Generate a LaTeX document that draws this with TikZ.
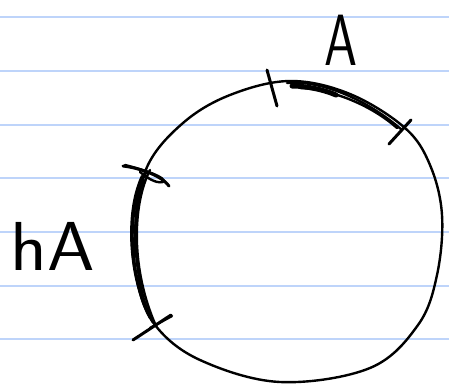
\documentclass[tikz,border=0pt]{standalone}
\usepackage{fontspec}
\definecolor{ruleblue}{RGB}{190,212,250}
\begin{document}
\begin{tikzpicture}[x=1pt,y=-1pt,
  ink/.style={line width=2.4pt,line cap=round,line join=round,black},
  tickmark/.style={line width=3pt,line cap=round,black},
  heavy/.style={line width=5pt,line cap=round,black},
  rule/.style={line width=2pt,ruleblue},
  lbl/.style={font=\sffamily\fontsize{66}{66}\selectfont,inner sep=0pt}]
\useasboundingbox (0,0) rectangle (449,385);
\fill[white] (0,0) rectangle (449,385);
% ruled lines
\foreach \yy in {17,71,124.5,178,231.5,285.5,339}
  \draw[rule] (0,\yy) -- (449,\yy);
% circle
\draw[ink] plot[smooth cycle,tension=0.6] coordinates {
  (290,81) (350,94) (405,128) (430,165) (442,215) (437,275) (418,325) (370,368)
  (280,382) (200,360) (155,325) (137,280) (135,230) (147,167) (183,123) (230,95)};
% arc A (top, heavy)
\draw[heavy] (292,86) .. controls (305,86) and (322,89) .. (336,95);
\draw[ink] (287,83) .. controls (320,80) and (365,98) .. (402,130);
\draw[ink] (300,88) .. controls (330,89) and (370,104) .. (397,128);
% arc hA (left, heavy)
\draw[ink,line width=3pt] (146,172) .. controls (128,205) and (125,270) .. (153,322);
\draw[ink] (142,176) .. controls (124,215) and (130,280) .. (150,318);
\draw[ink] (150,170) .. controls (132,205) and (131,270) .. (156,326);
\draw[ink] (144,180) .. controls (130,210) and (134,275) .. (148,312);
% ticks
\draw[tickmark] (267,70) -- (277,106);
\draw[tickmark] (389,144) -- (411,120);
\draw[tickmark] (123,166) .. controls (140,168) and (162,176) .. (169,186);
\draw[ink] (125,165) .. controls (145,170) and (168,178) .. (163,182) .. controls (155,184) and (145,176) .. (140,172);
\draw[tickmark] (133,340) -- (171,315);
\draw[ink] (150,328) -- (172,316);
% labels
\node[lbl,xscale=0.8,yscale=1.1] (labA) at (341,40) {A};
\node[lbl,xscale=1.15,yscale=1.05] (labhA) at (53,246) {hA};
\end{tikzpicture}
\end{document}
